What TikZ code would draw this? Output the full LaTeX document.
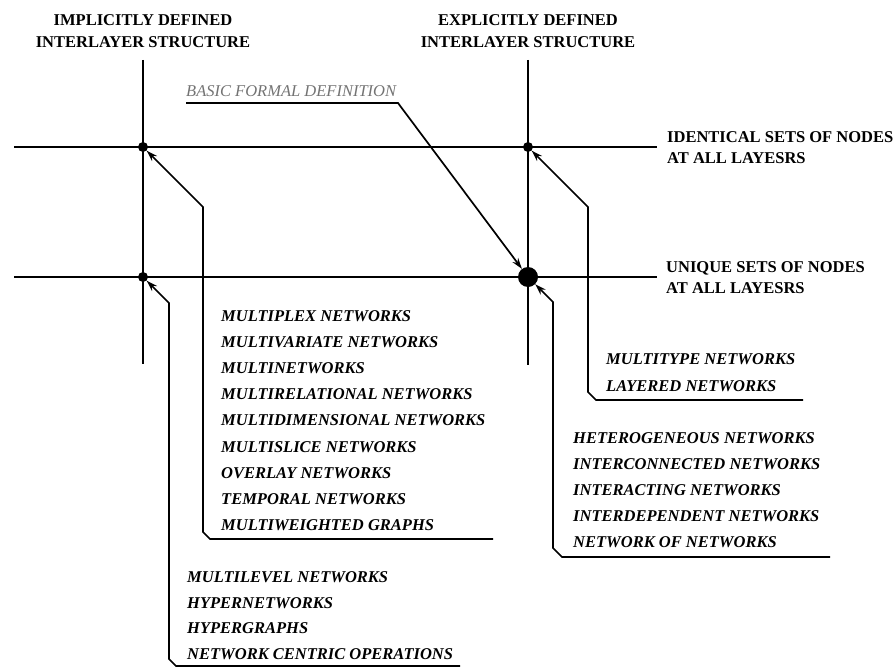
\documentclass[tikz,border=0pt]{standalone}
\usepackage{fontspec}
\setmainfont{Liberation Serif}
\usetikzlibrary{arrows.meta,calc}

\newcommand{\labfont}{\fontsize{16.5}{21.5}\selectfont\bfseries}
\newcommand{\listfont}{\fontsize{16.5}{20}\selectfont\bfseries\itshape}

\begin{document}
\begin{tikzpicture}[
  x=1pt, y=-1pt,
  axis/.style={line width=2pt},
  dot/.style={circle, fill, inner sep=0pt, minimum size=10pt},
  bigdot/.style={circle, fill, inner sep=0pt, minimum size=20pt},
  head/.style={align=center, anchor=base, font=\labfont, inner sep=0pt},
  side/.style={align=left, anchor=base west, font=\labfont, inner sep=0pt},
  item/.style={anchor=base west, font=\listfont, inner sep=0pt},
  lead/.style={line width=1.7pt, -{Stealth[length=11pt,width=7pt]}}
]
\useasboundingbox (0,0) rectangle (896,669);

% axes
\draw[axis] (143,60) -- (143,364);
\draw[axis] (528,60) -- (528,365);
\draw[axis] (14,147) -- (657,147);
\draw[axis] (14,277) -- (657,277);

\node[dot]    (dIL) at (143,147) {};
\node[dot]    (dEI) at (528,147) {};
\node[dot]    (dIU) at (143,277) {};
\node[bigdot] (dEU) at (528,277) {};

% axis labels
\node[head] (impl) at (143,47.5) {IMPLICITLY DEFINED\\INTERLAYER STRUCTURE};
\node[head] (expl) at (528,47.5) {EXPLICITLY DEFINED\\INTERLAYER STRUCTURE};
\node[side] (ident) at (667,163.5) {IDENTICAL SETS OF NODES\\AT ALL LAYESRS};
\node[side] (uniq)  at (666,293.5) {UNIQUE SETS OF NODES\\AT ALL LAYESRS};

% basic definition
\node[item, font=\fontsize{16.5}{20}\selectfont\itshape, text=black!55] (basic) at (186,96) {BASIC FORMAL DEFINITION};
\coordinate (bf1) at (186,103);
\coordinate (bf2) at (398,103);
\draw[lead] (bf1) -- (bf2) -- (dEU);

% lists
\foreach \txt [count=\i] in {MULTIPLEX NETWORKS, MULTIVARIATE NETWORKS, MULTINETWORKS,
  MULTIRELATIONAL NETWORKS, MULTIDIMENSIONAL NETWORKS, MULTISLICE NETWORKS,
  OVERLAY NETWORKS, TEMPORAL NETWORKS, MULTIWEIGHTED GRAPHS}
  \node[item] (mx\i) at (221,{321.5+26.1*(\i-1)}) {\txt};
\foreach \txt [count=\i] in {MULTILEVEL NETWORKS, HYPERNETWORKS, HYPERGRAPHS,
  NETWORK CENTRIC OPERATIONS}
  \node[item] (ml\i) at (187,{582.5+25.7*(\i-1)}) {\txt};
\foreach \txt [count=\i] in {MULTITYPE NETWORKS, LAYERED NETWORKS}
  \node[item] (mt\i) at (606,{364.5+27*(\i-1)}) {\txt};
\foreach \txt [count=\i] in {HETEROGENEOUS NETWORKS, INTERCONNECTED NETWORKS,
  INTERACTING NETWORKS, INTERDEPENDENT NETWORKS, NETWORK OF NETWORKS}
  \node[item] (he\i) at (573,{443.5+26*(\i-1)}) {\txt};

% leaders
\draw[lead] (493,539) -- (210,539) -- (203,532) -- (203,207) -- (dIL);
\draw[lead] (460,666) -- (176,666) -- (169,659) -- (169,303) -- (dIU);
\draw[lead] (803,400) -- (596,400) -- (588,392) -- (588,207) -- (dEI);
\draw[lead] (830,557) -- (562,557) -- (553,548) -- (553,302) -- (dEU);
\end{tikzpicture}
\end{document}
